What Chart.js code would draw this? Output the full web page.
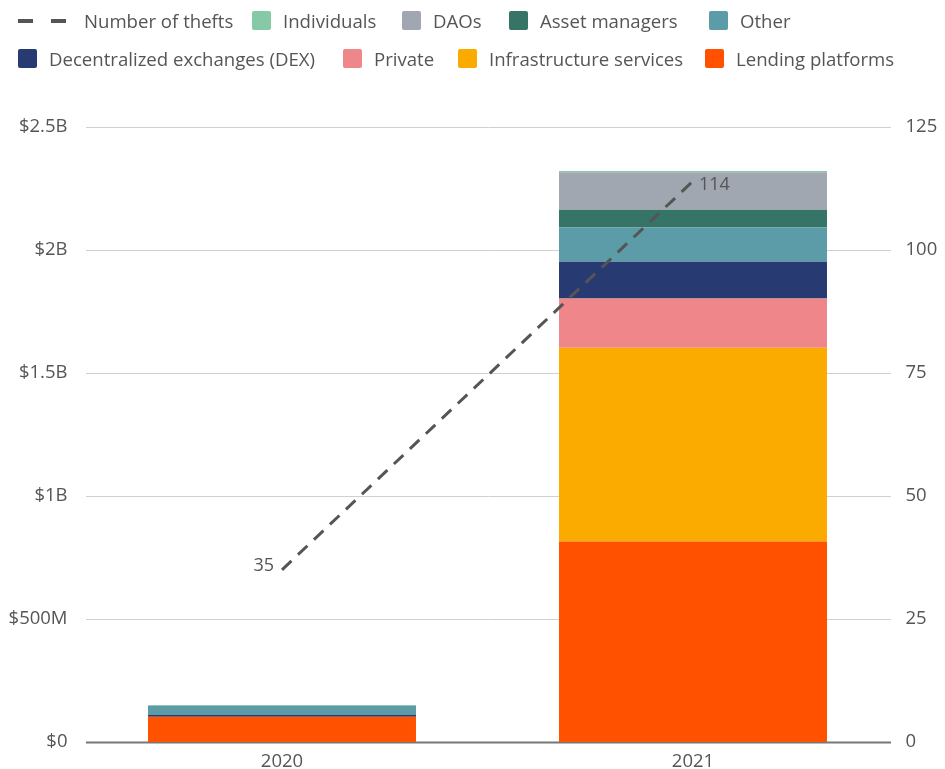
<!DOCTYPE html>
<html>
<head>
<meta charset="utf-8">
<script src="https://cdn.jsdelivr.net/npm/chart.js@4.4.1/dist/chart.umd.min.js"></script>
<style>
  body { margin: 0; background: #fff; }
  #wrap { position: relative; width: 945px; height: 769px; }
  #legend { position: absolute; left: 0; top: 0; width: 945px; height: 80px; font-family: 'Open Sans', sans-serif; font-size: 18.6px; color: #555; }
  .item { position: absolute; display: flex; align-items: center; height: 30px; white-space: nowrap; }
  .box { width: 19px; height: 19px; border-radius: 2px; margin-right: 12px; }
  .dash { display: flex; margin-right: 18px; }
  .dash span { width: 15px; height: 4px; background: #555; margin-right: 18px; }
  .dash span:last-child { margin-right: 0; }
</style>
</head>
<body>
<div id="wrap">
  <canvas id="chart" width="945" height="769"></canvas>
  <div id="legend"></div>
</div>
<script>
const years = ['2020', '2021'];
const thefts = [35, 114];

// stolen value in millions USD, bottom of the stack first
const lending = [103, 815];
const infrastructure = [0, 788];
const privateVictims = [0, 200];
const dex = [7, 149];
const other = [37, 139];
const assetManagers = [0, 73];
const daos = [0, 152];
const individuals = [3, 5];

const leftTicks = [0, 500, 1000, 1500, 2000, 2500];
const rightTicks = [0, 25, 50, 75, 100, 125];

const textColor = '#555';
const fontFamily = "'Open Sans', sans-serif";
const tickFont = { family: fontFamily, size: 18.5 };

const barSeries = [
  { label: 'Lending platforms', data: lending, color: '#ff5100' },
  { label: 'Infrastructure services', data: infrastructure, color: '#fbab00' },
  { label: 'Private', data: privateVictims, color: '#ef868a' },
  { label: 'Decentralized exchanges (DEX)', data: dex, color: '#283a72' },
  { label: 'Other', data: other, color: '#5c9ba8' },
  { label: 'Asset managers', data: assetManagers, color: '#357466' },
  { label: 'DAOs', data: daos, color: '#a0a7b0' },
  { label: 'Individuals', data: individuals, color: '#86c9a6' }
];

function fmtMoney(v) {
  if (v === 0) return '$0';
  if (v < 1000) return '$' + v + 'M';
  return '$' + (v / 1000) + 'B';
}

// html legend laid out like the reference: [name, left x, row]
const legendItems = [
  ['Number of thefts', 18, 0], ['Individuals', 252, 0], ['DAOs', 402, 0],
  ['Asset managers', 509, 0], ['Other', 709, 0],
  ['Decentralized exchanges (DEX)', 18, 1], ['Private', 343, 1],
  ['Infrastructure services', 458, 1], ['Lending platforms', 705, 1]
];
const legendEl = document.getElementById('legend');
legendItems.forEach(([name, left, row]) => {
  const item = document.createElement('div');
  item.className = 'item';
  item.style.left = left + 'px';
  item.style.top = (row === 0 ? 5.5 : 43.5) + 'px';
  if (name === 'Number of thefts') {
    item.innerHTML = '<div class="dash"><span></span><span></span></div>';
  } else {
    const s = barSeries.find(b => b.label === name);
    item.innerHTML = '<div class="box" style="background:' + s.color + '"></div>';
  }
  const t = document.createElement('span');
  t.textContent = name;
  item.appendChild(t);
  legendEl.appendChild(item);
});

const gridPlugin = {
  id: 'customGrid',
  beforeDatasetsDraw(chart) {
    const ctx = chart.ctx;
    const y = chart.scales.y;
    const x0 = 86, x1 = 891;
    ctx.save();
    leftTicks.forEach(v => {
      const py = Math.round(y.getPixelForValue(v)) + 0.5;
      ctx.strokeStyle = v === 0 ? '#777' : '#d0d0d0';
      ctx.lineWidth = v === 0 ? 2 : 1;
      ctx.beginPath();
      ctx.moveTo(x0, py);
      ctx.lineTo(x1, py);
      ctx.stroke();
    });
    ctx.restore();
  }
};

const pointLabels = {
  id: 'pointLabels',
  afterDatasetsDraw(chart) {
    const idx = chart.data.datasets.findIndex(d => d.type === 'line');
    const meta = chart.getDatasetMeta(idx);
    const ctx = chart.ctx;
    ctx.save();
    ctx.font = '18px ' + fontFamily;
    ctx.fillStyle = textColor;
    ctx.textBaseline = 'middle';
    meta.data.forEach((pt, i) => {
      if (i === 0) {
        ctx.textAlign = 'right';
        ctx.fillText(thefts[i], pt.x - 8, pt.y - 4);
      } else {
        ctx.textAlign = 'left';
        ctx.fillText(thefts[i], pt.x + 6, pt.y + 4);
      }
    });
    ctx.restore();
  }
};

const datasets = [{
  type: 'line',
  label: 'Number of thefts',
  data: thefts,
  yAxisID: 'y1',
  borderColor: '#555',
  borderWidth: 3,
  borderDash: [13, 9],
  pointRadius: 0,
  fill: false,
  order: 0
}];
barSeries.forEach(s => {
  datasets.push({
    type: 'bar',
    label: s.label,
    data: s.data,
    backgroundColor: s.color,
    stack: 'value',
    yAxisID: 'y',
    barPercentage: 0.652,
    categoryPercentage: 1,
    order: 1
  });
});

new Chart(document.getElementById('chart'), {
  data: { labels: years, datasets: datasets },
  options: {
    responsive: false,
    animation: false,
    devicePixelRatio: 1,
    layout: { padding: { top: 127, left: 0, right: 0, bottom: 0 } },
    plugins: { legend: { display: false }, tooltip: { enabled: false } },
    scales: {
      x: {
        stacked: true,
        grid: { display: false, drawTicks: false },
        border: { display: false },
        ticks: { color: textColor, font: tickFont, padding: 9 },
        afterFit(scale) { scale.height = 27; }
      },
      y: {
        stacked: true,
        position: 'left',
        min: 0,
        max: 2500,
        afterBuildTicks(scale) { scale.ticks = leftTicks.map(v => ({ value: v })); },
        grid: { display: false, drawTicks: false },
        border: { display: false },
        ticks: { color: textColor, font: tickFont, padding: 9, callback: v => fmtMoney(v) },
        afterFit(scale) { scale.width = 76.5; }
      },
      y1: {
        position: 'right',
        min: 0,
        max: 125,
        afterBuildTicks(scale) { scale.ticks = rightTicks.map(v => ({ value: v })); },
        grid: { display: false, drawTicks: false },
        border: { display: false },
        ticks: { color: textColor, font: tickFont, padding: 7 },
        afterFit(scale) { scale.width = 46.5; }
      }
    }
  },
  plugins: [gridPlugin, pointLabels]
});
</script>
</body>
</html>
